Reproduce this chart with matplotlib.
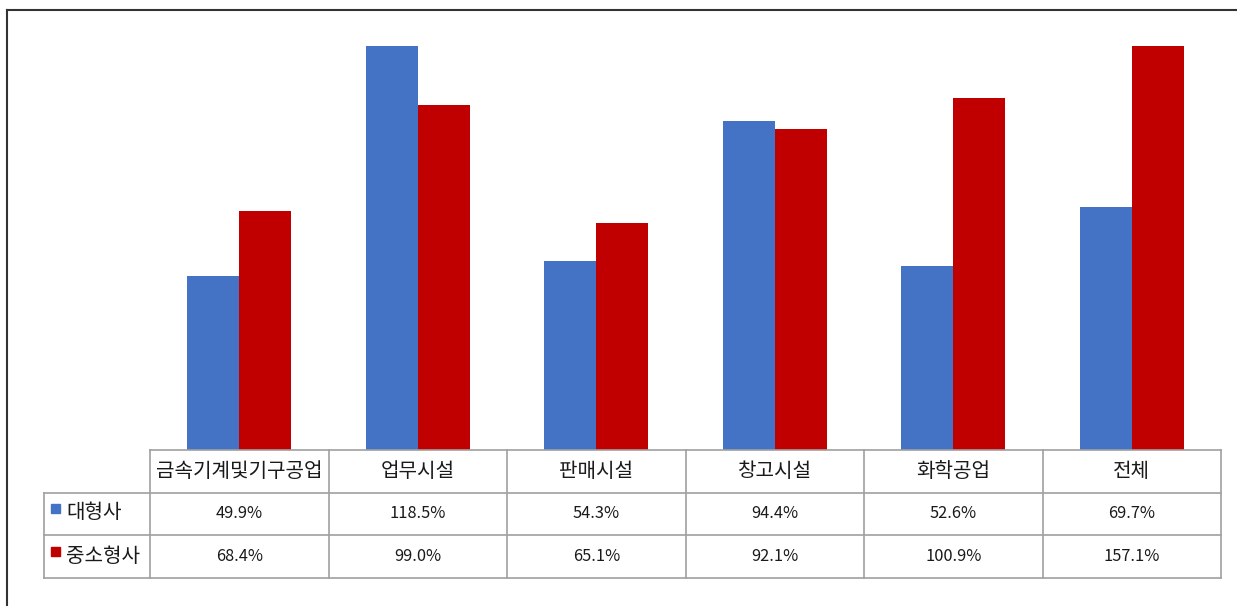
import matplotlib
matplotlib.use('Agg')
import matplotlib.pyplot as plt
from matplotlib.lines import Line2D
from matplotlib.patches import Rectangle
import numpy as np

plt.rcParams['font.family'] = ['Noto Sans CJK KR', 'DejaVu Sans']

categories = ['금속기계및기구공업', '업무시설', '판매시설', '창고시설', '화학공업', '전체']
series_names = ['대형사', '중소형사']
large = [49.9, 118.5, 54.3, 94.4, 52.6, 69.7]
small = [68.4, 99.0, 65.1, 92.1, 100.9, 157.1]
colors = ['#4472C4', '#C00000']

W, H = 1237, 606
fig = plt.figure(figsize=(W / 100, H / 100), dpi=100)

# plot area in pixels: x 150..1221, y 46..450
ax = fig.add_axes([150 / W, 1 - 450 / H, (1221 - 150) / W, (450 - 46) / H])
x = np.arange(len(categories))
bw = 0.29
ax.bar(x - bw / 2, large, bw, color=colors[0])
ax.bar(x + bw / 2, small, bw, color=colors[1])
ax.set_xlim(-0.5, len(categories) - 0.5)
ax.set_ylim(0, 115.8)
for s in ax.spines.values():
    s.set_visible(False)
ax.set_xticks([])
ax.set_yticks([])

# data table below the bars (x in data units, y in axes fraction)
tr = ax.get_xaxis_transform()
row_h = 42.5 / 404
left_x = -0.5 - 106 / 178.5
grid_kw = dict(color='#a0a0a0', lw=1.2, transform=tr, clip_on=False)
right_x = len(categories) - 0.5

ys = [0, -row_h, -2 * row_h, -3 * row_h]
ax.add_line(Line2D([-0.5, right_x], [ys[0], ys[0]], **grid_kw))
for yy in ys[1:]:
    ax.add_line(Line2D([left_x, right_x], [yy, yy], **grid_kw))
ax.add_line(Line2D([left_x, left_x], [ys[1], ys[3]], **grid_kw))
for xb in np.arange(-0.5, right_x + 0.01, 1.0):
    ax.add_line(Line2D([xb, xb], [ys[0], ys[3]], **grid_kw))

fs = 14.5
txt_c = '#1a1a1a'
for i, cat in enumerate(categories):
    ax.text(i, -row_h * 0.5, cat, ha='center', va='center', fontsize=fs,
            color=txt_c, transform=tr)
    ax.text(i, -row_h * 1.5, f'{large[i]:.1f}%', ha='center', va='center',
            fontsize=11.8, color=txt_c, transform=tr)
    ax.text(i, -row_h * 2.5, f'{small[i]:.1f}%', ha='center', va='center',
            fontsize=11.8, color=txt_c, transform=tr)

# legend keys in the left column
for r, (name, c) in enumerate(zip(series_names, colors)):
    yc = 1 - (513 + r * 43) / H
    fig.patches.append(Rectangle((51 / W, yc + 0 / H), 9 / W, 9 / H,
                                 transform=fig.transFigure, color=c))
    fig.text(66 / W, yc, name, ha='left', va='center', fontsize=fs,
             color=txt_c)

# outer frame (only top and left edges visible)
fig.add_artist(Line2D([7 / W, 7 / W], [0, 1 - 10 / H], color='#333333',
                      lw=1.5, transform=fig.transFigure))
fig.add_artist(Line2D([7 / W, 1], [1 - 10 / H, 1 - 10 / H], color='#333333',
                      lw=1.5, transform=fig.transFigure))

fig.savefig('out.png', dpi=100)
